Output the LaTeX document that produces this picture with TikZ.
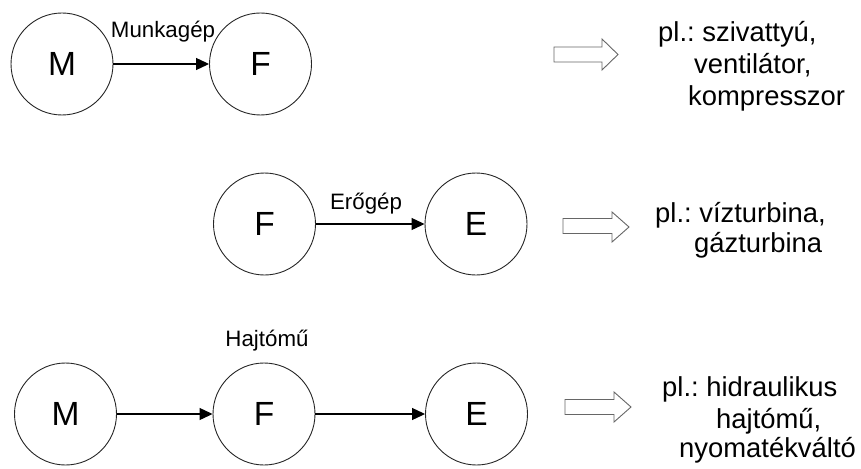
\documentclass[tikz,border=0pt]{standalone}
\usepackage{fontspec}
\setmainfont{Liberation Sans}
\usetikzlibrary{arrows.meta}
\frenchspacing
\begin{document}
\begin{tikzpicture}[x=1pt,y=-1pt,
  unit/.style={circle,draw=black!85,line width=0.9pt,minimum size=102pt,inner sep=0pt,
    font=\fontsize{33.5}{38}\selectfont},
  flow/.style={-{Triangle[length=13pt,width=12pt]},line width=1.1pt},
  lbl/.style={font=\fontsize{22.3}{25}\selectfont,anchor=base,inner sep=0pt},
  ex/.style={font=\fontsize{27.4}{32}\selectfont,anchor=base west,inner sep=0pt},
  hollow/.style={draw=black!60,line width=0.9pt,fill=white,line join=miter}]
\useasboundingbox (0,0) rectangle (861,468);
% Row 1
\node[unit] (m1) at (62,64) {M};
\node[unit] (f1) at (260.5,64) {F};
\draw[flow] (m1) -- (f1);
\node[lbl] (l1) at (163,38) {Munkagép};
\draw[hollow] (554,47) -- (602,47) -- (602,39) -- (618,54.5) -- (602,70) -- (602,62) -- (554,62) -- cycle;
\node[ex] (t11) at (658,42) {pl.: szivattyú,};
\node[ex] (t12) at (694,74) {ventilátor,};
\node[ex] (t13) at (688,106) {kompresszor};
% Row 2
\node[unit] (f2) at (264.5,224) {F};
\node[unit] (e2) at (476,224) {E};
\draw[flow] (f2) -- (e2);
\node[lbl] (l2) at (366,209) {Erőgép};
\draw[hollow] (563,218.5) -- (612,218.5) -- (612,212) -- (629,227) -- (612,242) -- (612,233.5) -- (563,233.5) -- cycle;
\node[ex] (t21) at (655,222) {pl.: vízturbina,};
\node[ex] (t22) at (694,252) {gázturbina};
% Row 3
\node[unit] (m3) at (65.5,414) {M};
\node[unit] (f3) at (264,414) {F};
\node[unit] (e3) at (476.5,414) {E};
\draw[flow] (m3) -- (f3);
\draw[flow] (f3) -- (e3);
\node[lbl] (l3) at (267,346) {Hajtómű};
\draw[hollow] (565,399.5) -- (614,399.5) -- (614,392) -- (631,407) -- (614,422) -- (614,414.5) -- (565,414.5) -- cycle;
\node[ex] (t31) at (662,396) {pl.: hidraulikus};
\node[ex] (t32) at (716,428) {hajtómű,};
\node[ex] (t33) at (679,457) {nyomatékváltó};
\end{tikzpicture}
\end{document}
